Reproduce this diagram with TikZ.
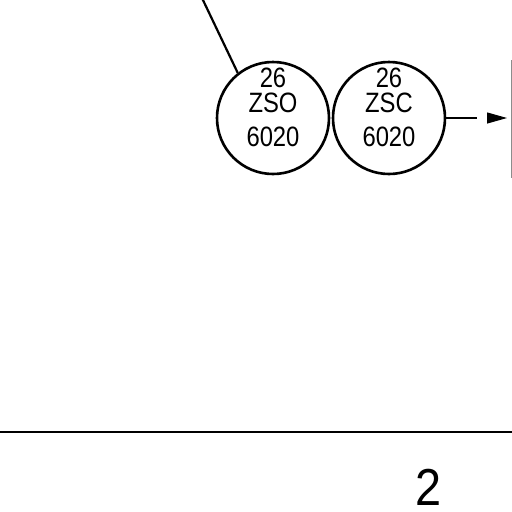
\documentclass[tikz,border=0pt]{standalone}
\usepackage{fontspec}
\setmainfont{Liberation Sans}
\usetikzlibrary{positioning,arrows.meta}

\begin{document}
\begin{tikzpicture}[x=1pt, y=-1pt, line width=2.6pt,
  valve/.style={draw, circle, minimum size=112pt, inner sep=0pt},
  tag/.style={font=\fontsize{28}{28}\selectfont\addfontfeature{FakeStretch=0.85}, inner sep=0pt}]
\useasboundingbox (0,0) rectangle (512,512);
% Instrument bubbles
\node (zso) [valve] at (273,118) {};
\node (zsc) [valve] at (389,118) {};
\node (zsonum) [tag] at (273,78) {26};
\node (zsoname) [tag] at (273,103) {ZSO};
\node (zsoloop) [tag] at (273,137) {6020};
\node (zscnum) [tag] at (389,78) {26};
\node (zscname) [tag] at (389,103) {ZSC};
\node (zscloop) [tag] at (389,137) {6020};

% Connectors
\coordinate (lead) at (202,-2);
\coordinate (gapstart) at (477,118);
\coordinate (gapend) at (487,118);
\coordinate (boxedge) at (507,118);
\draw[line width=2.2pt] (lead) -- (zso.128);
\draw[line width=2.2pt] (zsc.east) -- (gapstart);
\draw[-{Triangle[length=20pt,width=11pt]}, line width=1pt] (gapend) -- (boxedge);
\draw[line width=0.8pt, black!45] (511,60) -- (511,178);

% Sheet border and number
\draw[line width=2.6pt] (0,432) -- (512,432);
\node (sheetno) [font=\fontsize{52}{52}\selectfont\addfontfeature{FakeStretch=0.9}, anchor=base, inner sep=0pt] at (429,505) {2};
\end{tikzpicture}
\end{document}
